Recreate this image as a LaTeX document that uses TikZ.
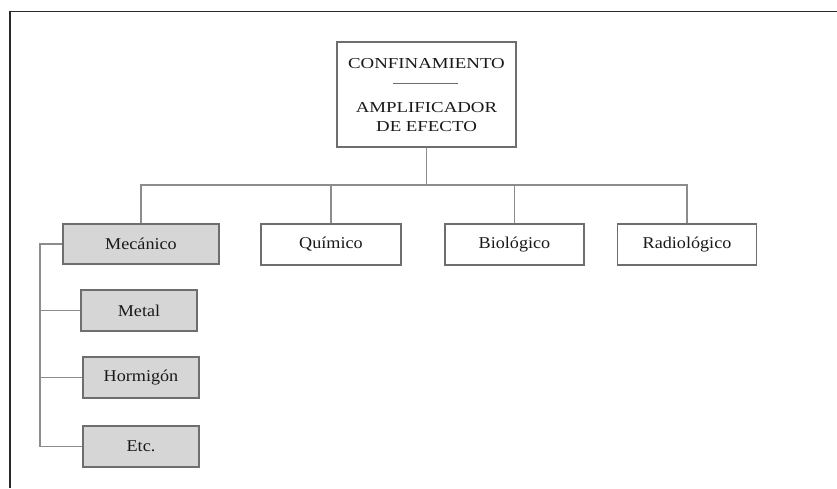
\documentclass[tikz,border=0pt]{standalone}
\usepackage{fontspec}
\setmainfont{Liberation Serif}
\newfontfamily\boxfont{Liberation Serif}[FakeStretch=1.1]
\newfontfamily\headfont{Liberation Serif}[FakeStretch=1.24]
\definecolor{boxline}{HTML}{6E6E6E}
\definecolor{linkline}{HTML}{8C8C8C}
\definecolor{boxfill}{HTML}{D6D6D6}
\definecolor{frameline}{HTML}{2A2A2A}
\begin{document}
\begin{tikzpicture}[x=1pt,y=-1pt,
  plainbox/.style={draw=boxline,line width=1.2pt,fill=white,rectangle,inner sep=0pt,
    font=\boxfont\fontsize{16.5}{19}\selectfont,text=black!90},
  graybox/.style={plainbox,fill=boxfill},
  link/.style={draw=linkline,line width=1.2pt},
  headtext/.style={inner sep=0pt,align=center,font=\headfont\fontsize{15.2}{19}\selectfont,text=black!90}]
\useasboundingbox (0,0) rectangle (837,488);
\fill[white] (0,0) rectangle (837,488);
% outer frame (top and left edges)
\draw[frameline,line width=1.6pt] (837,11.5) -- (10,11.5);
\draw[frameline,line width=2.6pt] (10,10.7) -- (10,488);

% head box
\node[plainbox,minimum width=179pt,minimum height=105pt] (top) at (426.5,94.5) {};
\node[headtext] (t1) at (426.5,64) {CONFINAMIENTO};
\coordinate (r1) at (393,83);
\coordinate (r2) at (458,83);
\draw[boxline,line width=1pt] (r1) -- (r2);
\node[headtext] (t2) at (426.5,117.5) {AMPLIFICADOR\\DE EFECTO};

% first level
\node[graybox,minimum width=156pt,minimum height=40pt] (mec) at (141,244) {Mecánico};
\node[plainbox,minimum width=140pt,minimum height=41pt] (qui) at (331,244.5) {Químico};
\node[plainbox,minimum width=139pt,minimum height=41pt] (bio) at (514.5,244.5) {Biológico};
\node[plainbox,minimum width=139pt,minimum height=41pt] (rad) at (687,244.5) {Radiológico};

% second level under Mecánico
\node[graybox,minimum width=116pt,minimum height=41pt] (metal) at (139,310.5) {Metal};
\node[graybox,minimum width=116pt,minimum height=41pt] (horm) at (141,377.5) {Hormigón};
\node[graybox,minimum width=116pt,minimum height=41pt] (etc) at (141,446.5) {Etc.};

% connectors
\coordinate (bus) at (426.5,185);
\coordinate (lb) at (40,300);
\draw[link] (top.south) -- (bus);
\draw[link] (mec.north) |- (bus) -| (rad.north);
\draw[link] (qui.north) -- (qui.north |- bus);
\draw[link] (bio.north) -- (bio.north |- bus);
\draw[link] (mec.west) -- (mec.west -| lb) -- (etc.west -| lb) -- (etc.west);
\draw[link] (metal.west) -- (metal.west -| lb);
\draw[link] (horm.west) -- (horm.west -| lb);
\end{tikzpicture}
\end{document}
